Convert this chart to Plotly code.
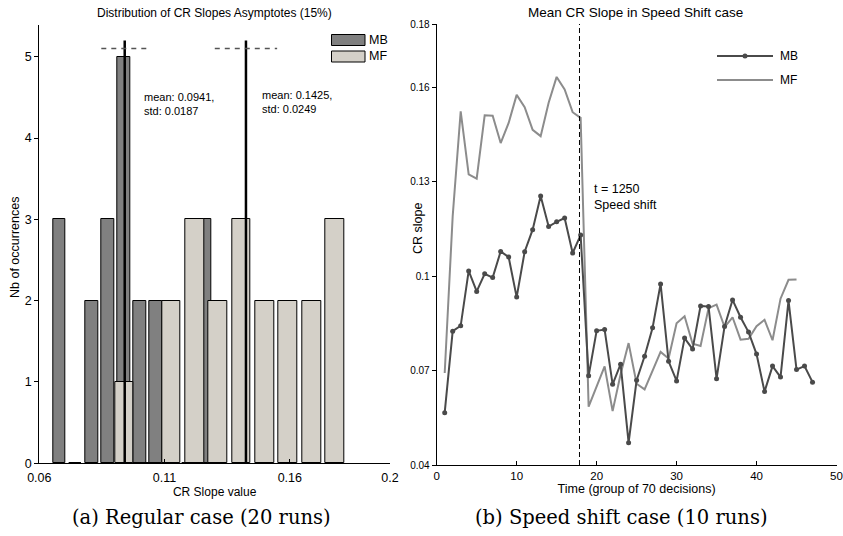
import plotly.graph_objects as go

W, H = 843, 536

# ---------------- Data: left histogram ----------------
mb_centers = [0.0680, 0.0744, 0.0809, 0.0873, 0.0938, 0.1002, 0.1066, 0.1131, 0.1195, 0.1260]
mb_counts = [3, 0, 2, 3, 5, 2, 2, 0, 0, 3]
mf_centers = [0.0940, 0.1033, 0.1127, 0.1220, 0.1313, 0.1407, 0.1500, 0.1593, 0.1687, 0.1780]
mf_counts = [1, 0, 2, 3, 2, 3, 2, 2, 2, 3]
mb_mean, mb_std = 0.0941, 0.0187
mf_mean, mf_std = 0.1425, 0.0249
hist_xticks = [0.06, 0.11, 0.16, 0.2]
hist_xticklabels = ["0.06", "0.11", "0.16", "0.2"]
hist_yticks = [0, 1, 2, 3, 4, 5]

# ---------------- Data: right line chart ----------------
mb_time = list(range(1, 48))
mb_slope = [0.0566, 0.0825, 0.0842, 0.1016, 0.0951, 0.1007, 0.0995, 0.1078, 0.1060, 0.0933,
            0.1077, 0.1147, 0.1254, 0.1157, 0.1172, 0.1184, 0.1073, 0.1130, 0.0683, 0.0826,
            0.0830, 0.0656, 0.0720, 0.0471, 0.0669, 0.0745, 0.0836, 0.0975, 0.0729, 0.0667,
            0.0803, 0.0768, 0.0905, 0.0903, 0.0674, 0.0840, 0.0924, 0.0869, 0.0822, 0.0752,
            0.0633, 0.0714, 0.0679, 0.0922, 0.0703, 0.0714, 0.0663]
mf_time = list(range(1, 46))
mf_slope = [0.0692, 0.1190, 0.1523, 0.1323, 0.1309, 0.1510, 0.1509, 0.1422, 0.1486, 0.1575,
            0.1536, 0.1464, 0.1444, 0.1550, 0.1632, 0.1592, 0.1520, 0.1502, 0.0585, 0.0648,
            0.0713, 0.0571, 0.0688, 0.0787, 0.0658, 0.0640, 0.0701, 0.0759, 0.0738, 0.0850,
            0.0872, 0.0785, 0.0778, 0.0898, 0.0909, 0.0838, 0.0869, 0.0798, 0.0801, 0.0841,
            0.0861, 0.0796, 0.0928, 0.0988, 0.0989]
shift_time = 1250 / 70
line_yticks = [0.04, 0.07, 0.1, 0.13, 0.16, 0.18]
line_yticklabels = ["0.04", "0.07", "0.1", "0.13", "0.16", "0.18"]
line_xticks = [0, 10, 20, 30, 40, 50]

MB_BAR = "#808080"
MF_BAR = "#d4d0c8"
MB_LINE = "#4a4a4a"
MF_LINE = "#8c8c8c"
SANS = "Liberation Sans, Arial, sans-serif"
SERIF = "DejaVu Serif, Liberation Serif, serif"

def px_x(p):
    return p / W

def px_y(p):
    return 1 - p / H

fig = go.Figure()

# Left histogram
fig.add_trace(go.Bar(x=mb_centers, y=mb_counts, width=0.8 * (mb_centers[1] - mb_centers[0]),
                     marker=dict(color=MB_BAR, line=dict(color="black", width=1)),
                     name="MB", xaxis="x", yaxis="y", showlegend=False))
fig.add_trace(go.Bar(x=mf_centers, y=mf_counts, width=0.8 * (mf_centers[1] - mf_centers[0]),
                     marker=dict(color=MF_BAR, line=dict(color="black", width=1)),
                     name="MF", xaxis="x", yaxis="y", showlegend=False))

# mean lines and std dashed lines
for m, s in [(mb_mean, mb_std), (mf_mean, mf_std)]:
    fig.add_trace(go.Scatter(x=[m, m], y=[0, 5.2], mode="lines",
                             line=dict(color="black", width=2.5),
                             xaxis="x", yaxis="y", showlegend=False, hoverinfo="skip"))
    fig.add_trace(go.Scatter(x=[m - s / 2, m + s / 2], y=[5.1, 5.1], mode="lines",
                             line=dict(color="#555555", width=1.5, dash="5px,5px"),
                             xaxis="x", yaxis="y", showlegend=False, hoverinfo="skip"))

# Right lines
fig.add_trace(go.Scatter(x=mf_time, y=mf_slope, mode="lines",
                         line=dict(color=MF_LINE, width=2),
                         xaxis="x2", yaxis="y2", showlegend=False, name="MF"))
fig.add_trace(go.Scatter(x=mb_time, y=mb_slope, mode="lines+markers",
                         line=dict(color=MB_LINE, width=2),
                         marker=dict(color=MB_LINE, size=5),
                         xaxis="x2", yaxis="y2", showlegend=False, name="MB"))
fig.add_trace(go.Scatter(x=[shift_time, shift_time], y=[0.04, 0.18], mode="lines",
                         line=dict(color="black", width=1, dash="5px,3px"),
                         xaxis="x2", yaxis="y2", showlegend=False, hoverinfo="skip"))

axis_common = dict(showgrid=False, zeroline=False, showline=True, linecolor="black",
                   linewidth=1, tickcolor="black", ticklen=4, mirror=False, automargin=False)

fig.update_layout(
    width=W, height=H,
    margin=dict(l=0, r=0, t=0, b=0, autoexpand=False),
    plot_bgcolor="white", paper_bgcolor="white",
    barmode="overlay", bargap=0,
    font=dict(family=SANS, color="black", size=12),
    showlegend=False,
    xaxis=dict(domain=[px_x(39.3), px_x(390)], range=[0.06, 0.2], anchor="y",
               tickvals=hist_xticks, ticktext=hist_xticklabels, ticks="inside",
               ticklabelstandoff=3,
               tickfont=dict(size=12.5), title=dict(text="CR Slope value", font=dict(size=12), standoff=1),
               **axis_common),
    yaxis=dict(domain=[px_y(463.3), px_y(25)], range=[0, 5.39], anchor="x",
               tickvals=hist_yticks, ticks="outside",
               tickfont=dict(size=12.5), **axis_common),
    xaxis2=dict(domain=[px_x(436.7), px_x(836.5)], range=[0, 50], anchor="y2",
                tickvals=line_xticks, ticks="inside",
                tickfont=dict(size=11.5), title=dict(text="Time (group of 70 decisions)", font=dict(size=12.5), standoff=1),
                **axis_common),
    yaxis2=dict(domain=[px_y(465), px_y(24)], range=[0.04, 0.18], anchor="x2",
                tickvals=line_yticks, ticktext=line_yticklabels, ticks="outside",
                tickfont=dict(size=10), **axis_common),
)

annotations = [
    dict(text="Distribution of CR Slopes Asymptotes (15%)", x=px_x(214), y=px_y(13),
         xref="paper", yref="paper", showarrow=False, font=dict(size=12), xanchor="center", yanchor="middle"),
    dict(text="Mean CR Slope in Speed Shift case", x=px_x(635), y=px_y(13),
         xref="paper", yref="paper", showarrow=False, font=dict(size=13.5), xanchor="center", yanchor="middle"),
    dict(text="Nb of occurrences", x=px_x(15), y=px_y(248), xref="paper", yref="paper",
         showarrow=False, textangle=-90, font=dict(size=12.5), xanchor="center", yanchor="middle"),
    dict(text="CR slope", x=px_x(418), y=px_y(229), xref="paper", yref="paper",
         showarrow=False, textangle=-90, font=dict(size=12.5), xanchor="center", yanchor="middle"),
    dict(text=f"mean: {mb_mean:.4f},<br>std: {mb_std:.4f}", x=0.1008, y=4.6, xref="x", yref="y",
         showarrow=False, font=dict(size=11), xanchor="left", yanchor="top", align="left"),
    dict(text=f"mean: {mf_mean:.4f},<br>std: {mf_std:.4f}", x=0.1480, y=4.63, xref="x", yref="y",
         showarrow=False, font=dict(size=11), xanchor="left", yanchor="top", align="left"),
    dict(text="t = 1250<br>Speed shift", x=19.4, y=0.1305, xref="x2", yref="y2",
         showarrow=False, font=dict(size=12.5), xanchor="left", yanchor="top", align="left"),
    dict(text="(a) Regular case (20 runs)", x=px_x(201), y=px_y(517), xref="paper", yref="paper",
         showarrow=False, font=dict(family=SERIF, size=19.5), xanchor="center", yanchor="middle"),
    dict(text="(b) Speed shift case (10 runs)", x=px_x(621), y=px_y(517), xref="paper", yref="paper",
         showarrow=False, font=dict(family=SERIF, size=19.5), xanchor="center", yanchor="middle"),
    # left legend texts
    dict(text="MB", x=px_x(367), y=px_y(40), xref="paper", yref="paper", showarrow=False,
         font=dict(size=12.5), xanchor="left", yanchor="middle"),
    dict(text="MF", x=px_x(367), y=px_y(56.5), xref="paper", yref="paper", showarrow=False,
         font=dict(size=12.5), xanchor="left", yanchor="middle"),
    # right legend texts
    dict(text="MB", x=px_x(778), y=px_y(56), xref="paper", yref="paper", showarrow=False,
         font=dict(size=12), xanchor="left", yanchor="middle"),
    dict(text="MF", x=px_x(778), y=px_y(80), xref="paper", yref="paper", showarrow=False,
         font=dict(size=12), xanchor="left", yanchor="middle"),
]
fig.update_layout(annotations=annotations)

shapes = [
    # left legend patches
    dict(type="rect", xref="paper", yref="paper", x0=px_x(331.5), x1=px_x(365), y0=px_y(45.5), y1=px_y(34.5),
         fillcolor=MB_BAR, line=dict(color="black", width=1)),
    dict(type="rect", xref="paper", yref="paper", x0=px_x(331.5), x1=px_x(365), y0=px_y(62), y1=px_y(51),
         fillcolor=MF_BAR, line=dict(color="black", width=1)),
    # right legend lines
    dict(type="line", xref="paper", yref="paper", x0=px_x(717), x1=px_x(773), y0=px_y(56), y1=px_y(56),
         line=dict(color=MB_LINE, width=2)),
    dict(type="circle", xref="paper", yref="paper", x0=px_x(742.5), x1=px_x(747.5), y0=px_y(58.5), y1=px_y(53.5),
         fillcolor=MB_LINE, line=dict(color=MB_LINE, width=0)),
    dict(type="line", xref="paper", yref="paper", x0=px_x(717), x1=px_x(773), y0=px_y(80), y1=px_y(80),
         line=dict(color=MF_LINE, width=2)),
]
fig.update_layout(shapes=shapes)

fig.write_html("out.html",
               config={"displayModeBar": False},
               post_script="document.body.style.margin='0';document.body.style.padding='0';")
